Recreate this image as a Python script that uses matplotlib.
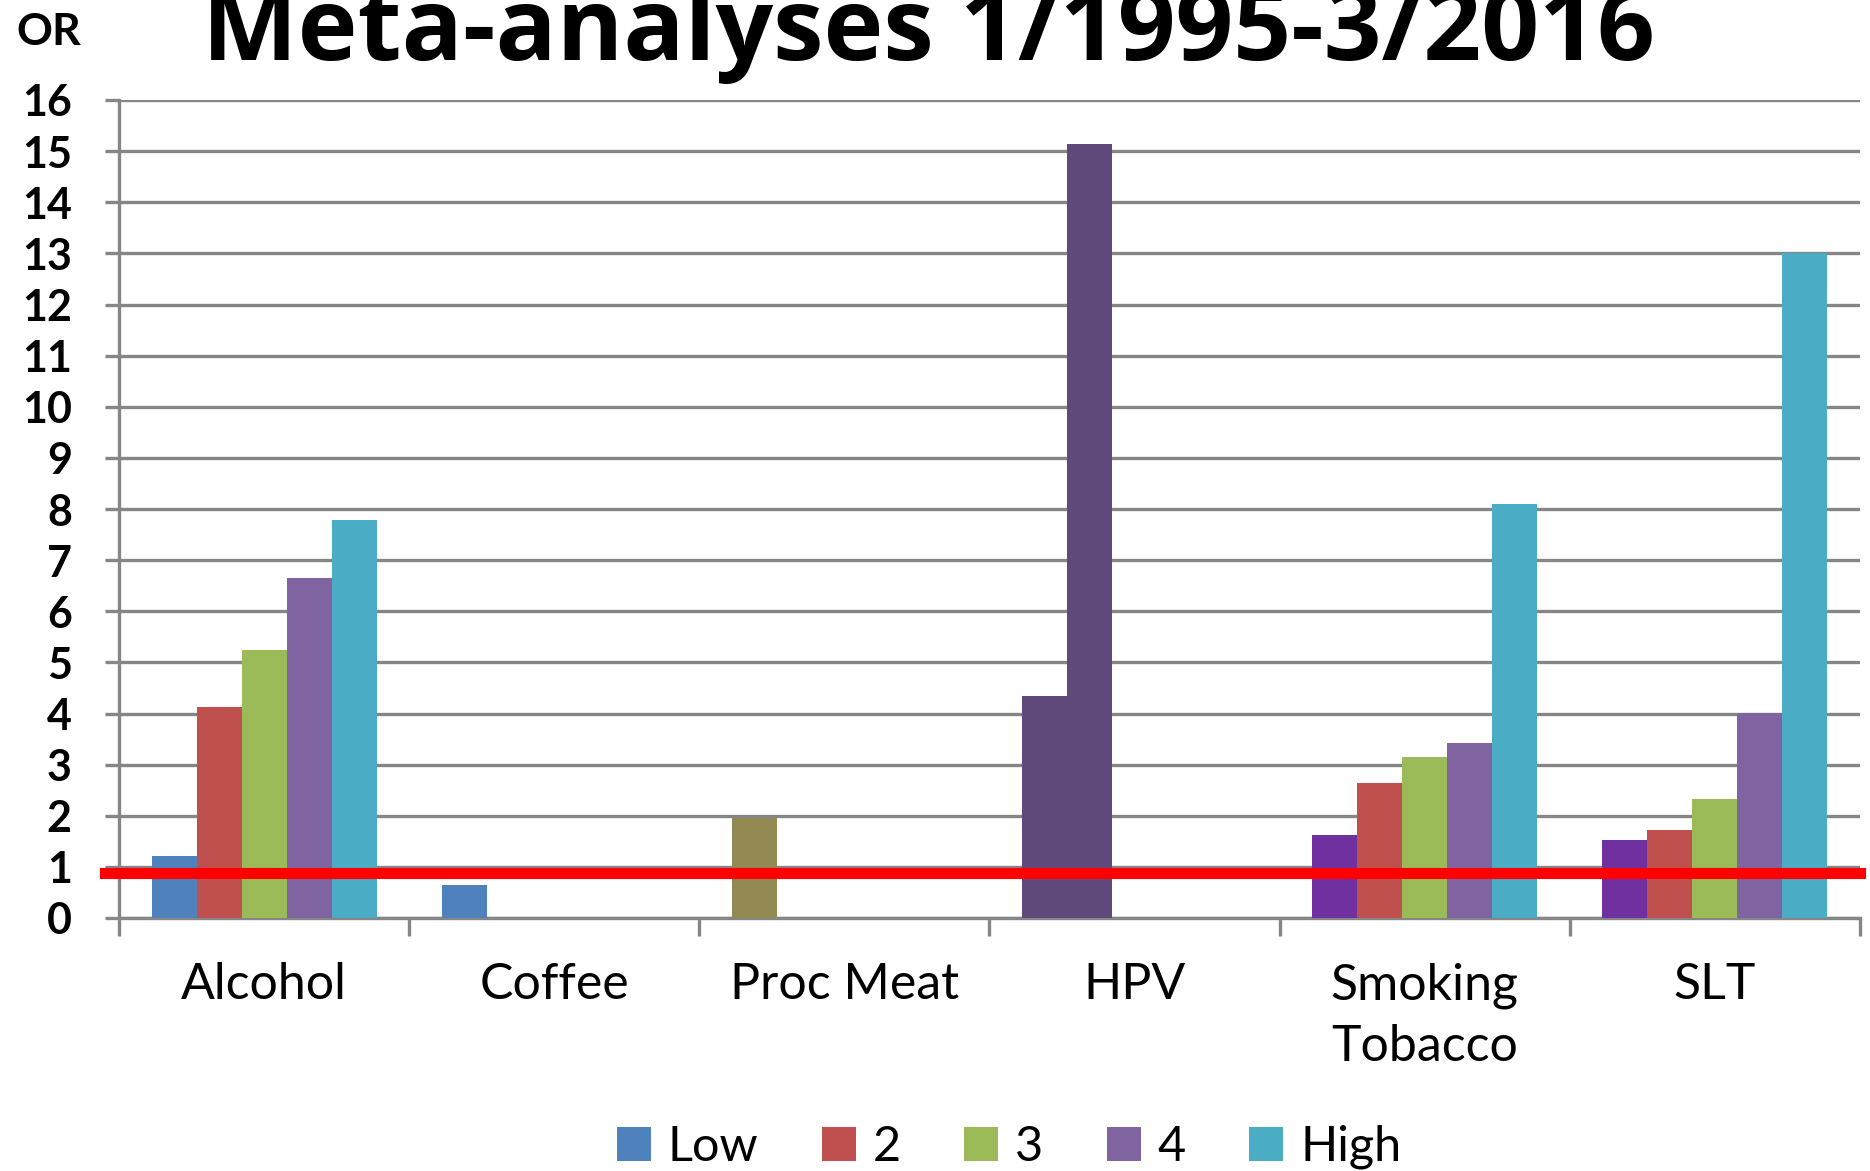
import matplotlib
matplotlib.use("Agg")
import matplotlib.pyplot as plt
from matplotlib.patches import Patch
import numpy as np

categories = ["Alcohol", "Coffee", "Proc Meat", "HPV", "Smoking\nTobacco", "SLT"]
series_names = ["Low", "2", "3", "4", "High"]
low_vals = [1.21, 0.65, 1.96, 4.34, 1.63, 1.52]
s2_vals = [4.13, 0.0, 0.0, 15.14, 2.64, 1.73]
s3_vals = [5.25, 0.0, 0.0, 0.0, 3.15, 2.33]
s4_vals = [6.65, 0.0, 0.0, 0.0, 3.43, 4.01]
high_vals = [7.79, 0.0, 0.0, 0.0, 8.09, 13.01]
yticks = list(range(0, 17))
reference_or = 0.88

series_colors = ["#4F81BD", "#C0504D", "#9BBB59", "#8064A2", "#4BACC6"]
# per-point colour overrides (category index, series index) -> colour
overrides = {(2, 0): "#938953", (3, 0): "#604A7B", (3, 1): "#604A7B",
             (4, 0): "#7030A0", (5, 0): "#7030A0"}

plt.rcParams['font.family'] = ['Lato', 'DejaVu Sans']

fig = plt.figure(figsize=(18.7, 11.71), dpi=100)
ax = fig.add_axes([119/1870, 1 - 918/1171, (1860-119)/1870, (918-100)/1171])

all_vals = [low_vals, s2_vals, s3_vals, s4_vals, high_vals]
x = np.arange(len(categories))
w = 0.155
for j, vals in enumerate(all_vals):
    cols = [overrides.get((i, j), series_colors[j]) for i in range(len(categories))]
    ax.bar(x + (j - 2) * w, vals, width=w, color=cols, zorder=3, linewidth=0)

ax.set_xlim(-0.5, len(categories) - 0.5)
ax.set_ylim(0, 16)

grid_c = "#868686"
ax.set_yticks(yticks)
ax.set_yticklabels([str(t) for t in yticks], fontsize=31, fontweight='bold')
ax.yaxis.grid(True, color=grid_c, linewidth=2.4, zorder=0)
ax.set_axisbelow(True)
ax.tick_params(axis='y', direction='out', length=10, width=2.4, color=grid_c, pad=24)

ax.set_xticks(np.arange(-0.5, len(categories)), minor=False)
ax.set_xticklabels([])
ax.set_xticks(x, minor=True)
ax.set_xticklabels(categories, minor=True, fontsize=36, linespacing=1.4)
ax.tick_params(axis='x', which='major', direction='out', length=13, width=2.4, color=grid_c)
ax.tick_params(axis='x', which='minor', length=0, pad=32)

for s in ['top', 'right']:
    ax.spines[s].set_visible(False)
ax.spines['left'].set_color(grid_c)
ax.spines['left'].set_linewidth(2.4)
ax.spines['bottom'].set_color(grid_c)
ax.spines['bottom'].set_linewidth(2.4)

ax.axhline(reference_or, xmin=-0.008, xmax=1.0, color="#FF0000", linewidth=8, zorder=5, clip_on=False)

fig.text(928/1870, 1 - 60/1171, "Meta-analyses 1/1995-3/2016", fontsize=73, fontweight='bold',
         family=['Open Sans', 'DejaVu Sans'], ha='center', va='baseline')
fig.text(49/1870, 1 - 32/1171, "OR", fontsize=32, fontweight='bold', ha='center', va='center')

handles = [Patch(facecolor=c, edgecolor='none') for c in series_colors]
fig.legend(handles, series_names, loc='center', bbox_to_anchor=(1009/1870, 1 - 1147/1171),
           ncol=5, frameon=False, fontsize=35, handlelength=0.7, handleheight=0.7,
           handletextpad=0.35, columnspacing=1.3)

fig.savefig("out.png", dpi=100)
